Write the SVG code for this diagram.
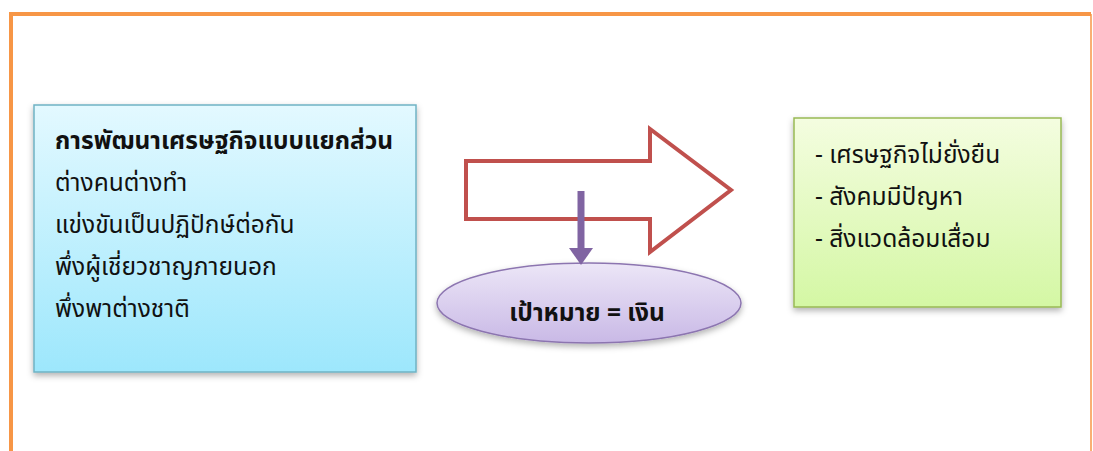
<svg xmlns="http://www.w3.org/2000/svg" width="1093" height="451" viewBox="0 0 1093 451">
<defs>
<linearGradient id="gBlue" x1="0" y1="0" x2="0" y2="1">
<stop offset="0" stop-color="#e3f9ff"/>
<stop offset="1" stop-color="#9de7fc"/>
</linearGradient>
<linearGradient id="gGreen" x1="0" y1="0" x2="0" y2="1">
<stop offset="0" stop-color="#f4fde0"/>
<stop offset="1" stop-color="#d4f7a4"/>
</linearGradient>
<linearGradient id="gPurple" x1="0" y1="0" x2="0" y2="1">
<stop offset="0" stop-color="#ece6f7"/>
<stop offset="1" stop-color="#c9b9e6"/>
</linearGradient>
<filter id="sh" x="-10%" y="-10%" width="120%" height="125%">
<feDropShadow dx="0" dy="3" stdDeviation="3" flood-color="#000" flood-opacity="0.3"/>
</filter>
</defs>
<style>
text{font-family:"Noto Sans Thai","Noto Sans","DejaVu Sans",sans-serif;fill:#111;}
.t{font-size:24.5px;}
.b{font-weight:bold;}
</style>
<rect x="0" y="0" width="1093" height="451" fill="#fff"/>
<g id="frame">
<path d="M11,451 L11,14 L1091,14" fill="none" stroke="#f79646" stroke-width="4"/>
<path d="M1091,14 L1091,451" stroke="#f79646" stroke-width="1.5"/>
</g>
<g id="left-box">
<rect x="34" y="105" width="382" height="267" fill="url(#gBlue)" stroke="#6fb3c4" stroke-width="1.5" filter="url(#sh)"/>
<text class="t b" x="55" y="149">การพัฒนาเศรษฐกิจแบบแยกส่วน</text>
<text class="t" x="55" y="191">ต่างคนต่างทำ</text>
<text class="t" x="55" y="233">แข่งขันเป็นปฏิปักษ์ต่อกัน</text>
<text class="t" x="55" y="275">พึ่งผู้เชี่ยวชาญภายนอก</text>
<text class="t" x="55" y="317">พึ่งพาต่างชาติ</text>
</g>
<g id="big-arrow">
<path d="M466,161 L650,161 L650,129 L731,190 L650,252 L650,219 L466,219 Z" fill="#fff" stroke="#c0504d" stroke-width="4" stroke-linejoin="miter"/>
</g>
<g id="goal">
<ellipse cx="589" cy="303" rx="152" ry="40" fill="url(#gPurple)" stroke="#8c75b0" stroke-width="1.5" filter="url(#sh)"/>
<text class="t b" x="587" y="321" text-anchor="middle">เป้าหมาย = เงิน</text>
</g>
<g id="connectors">
<line x1="581" y1="191" x2="581" y2="250" stroke="#8064a2" stroke-width="7"/>
<polygon points="569,248 593,248 581,265" fill="#8064a2"/>
</g>
<g id="right-box">
<rect x="794" y="118" width="267" height="189" fill="url(#gGreen)" stroke="#98b954" stroke-width="1.5" filter="url(#sh)"/>
<text class="t" x="815" y="163">- เศรษฐกิจไม่ยั่งยืน</text>
<text class="t" x="815" y="205">- สังคมมีปัญหา</text>
<text class="t" x="815" y="247">- สิ่งแวดล้อมเสื่อม</text>
</g>
</svg>
